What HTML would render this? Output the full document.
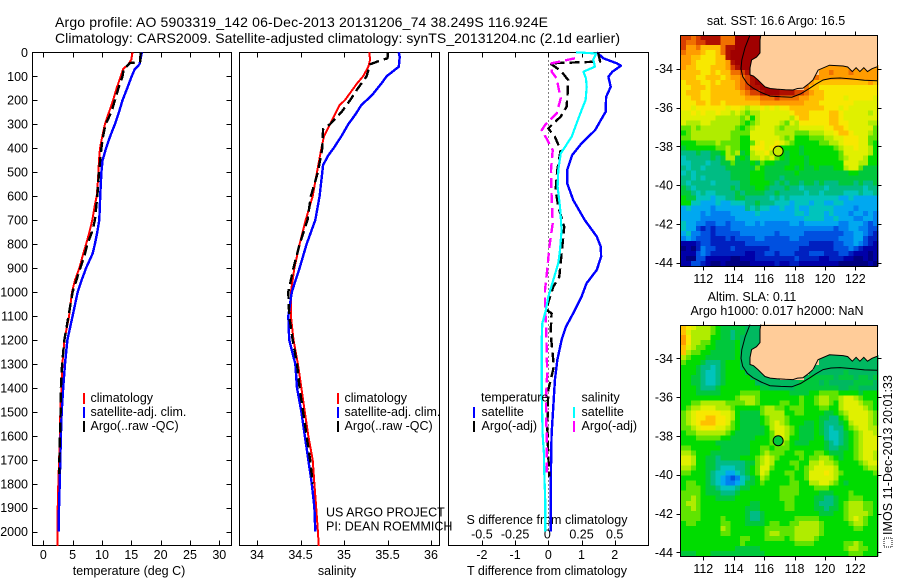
<!DOCTYPE html>
<html>
<head>
<meta charset="utf-8">
<title>Argo profile 5903319_142</title>
<style>
html,body{margin:0;padding:0;background:#fff;}
svg{display:block;}
text{font-family:"Liberation Sans",Arial,sans-serif;font-size:12.5px;fill:#000;}
</style>
</head>
<body>
<svg id="chart" xmlns="http://www.w3.org/2000/svg" width="900" height="580" viewBox="0 0 900 580">
<text x="55" y="27" textLength="493" style="font-size:14px">Argo profile: AO 5903319_142 06-Dec-2013 20131206_74 38.249S 116.924E</text>
<text x="55" y="43" textLength="565" style="font-size:14px">Climatology: CARS2009. Satellite-adjusted climatology: synTS_20131204.nc (2.1d earlier)</text>
<text x="129" y="575" text-anchor="middle">temperature (deg C)</text>
<text x="337" y="575" text-anchor="middle">salinity</text>
<text x="547" y="575" text-anchor="middle">T difference from climatology</text>
<text x="547" y="524" text-anchor="middle">S difference from climatology</text>
<text x="326" y="516.5">US ARGO PROJECT</text>
<text x="326" y="530.5">PI: DEAN ROEMMICH</text>
<text x="776" y="25" text-anchor="middle">sat. SST: 16.6 Argo: 16.5</text>
<text x="752" y="301" text-anchor="middle">Altim. SLA: 0.11</text>
<text x="777" y="315" text-anchor="middle">Argo h1000: 0.017 h2000: NaN</text>
<g transform="translate(892,535) rotate(-90)">
<text x="0" y="0" textLength="160">IMOS 11-Dec-2013 20:01:33</text>
</g>
<rect x="884" y="538" width="8" height="9" fill="none" stroke="#000" stroke-width="1" stroke-dasharray="1 1"/>
</svg>
<script>
// ---------- data: profile depths (dbar) and values ----------
const tempClimDepth = [0,30,50,70,100,150,200,250,300,350,400,450,500,550,600,650,700,750,800,850,900,950,1000,1100,1200,1300,1400,1500,1600,1700,1800,1900,2000,2060];
const tempClimValue = [15.2,15.0,14.5,13.6,13.2,12.5,11.9,11.2,10.5,10.05,9.66,9.5,9.4,9.27,9.1,8.7,8.35,7.85,7.3,6.7,6.15,5.4,4.9,4.4,3.6,3.25,3.1,2.9,2.85,2.7,2.55,2.45,2.45,2.45];
const tempSatDepth = [0,50,70,100,150,200,250,300,350,400,450,500,600,700,750,800,840,900,950,1000,1100,1200,1300,1400,1500,1600,1700,1800,1900,2000];
const tempSatValue = [16.8,16.4,15.6,15.07,14.3,13.5,12.9,12.2,11.4,10.7,10.1,9.9,9.7,9.55,9.2,8.8,8.4,7.3,6.55,5.86,5.0,4.1,3.7,3.4,3.13,3.0,2.9,2.8,2.67,2.6];
const tempArgoDepth = [0,40,45,70,100,150,200,250,300,350,400,500,600,650,700,750,800,850,900,1000,1100,1200,1300,1400,1500,1600,1700,1760];
const tempArgoValue = [16.6,16.5,14.8,13.7,13.5,12.8,12.2,11.6,10.6,10.2,9.9,9.5,9.2,9.0,8.8,8.3,7.5,7.0,6.3,5.0,4.3,3.6,3.2,3.0,2.95,2.85,2.75,2.7];

const salClimDepth = [0,30,60,100,130,200,220,300,350,400,500,600,700,800,900,1000,1100,1200,1300,1400,1500,1600,1700,1800,1900,2000,2060];
const salClimValue = [35.29,35.30,35.28,35.22,35.15,35.01,34.95,34.84,34.77,34.74,34.69,34.64,34.56,34.49,34.43,34.39,34.39,34.42,34.47,34.51,34.55,34.59,34.64,34.66,34.68,34.70,34.71];
const salSatDepth = [0,20,60,100,130,180,220,260,300,350,400,430,470,500,600,700,800,900,1000,1100,1200,1300,1400,1500,1600,1700,1800,1900,2000];
const salSatValue = [35.63,35.64,35.63,35.49,35.43,35.32,35.20,35.13,35.05,34.97,34.88,34.82,34.76,34.75,34.72,34.67,34.57,34.49,34.40,34.36,34.37,34.44,34.46,34.51,34.55,34.59,34.63,34.66,34.67];
const salArgoDepth = [0,25,35,50,100,150,200,250,300,320,400,500,600,700,800,900,1000,1100,1200,1300,1400,1500,1600,1700,1800];
const salArgoValue = [35.50,35.50,35.41,35.30,35.26,35.16,35.07,34.97,34.84,34.76,34.75,34.70,34.62,34.58,34.49,34.42,34.36,34.37,34.41,34.46,34.49,34.53,34.57,34.61,34.64];

const diffTSatDepth = [0,25,46,56,81,102,144,186,248,283,325,380,429,491,547,616,700,769,811,853,908,964,1020,1089,1145,1200,1284,1367,1478,1590,1729,2000];
const diffTSatValue = [1.46,1.66,2.06,2.19,1.93,1.81,1.88,1.74,1.73,1.58,1.41,1.0,0.72,0.57,0.57,0.75,1.1,1.46,1.58,1.59,1.46,1.15,1.0,0.75,0.53,0.40,0.27,0.20,0.15,0.10,0.08,0.07];
const diffSSatDepth = [0,5,30,60,81,109,144,199,241,296,352,422,491,561,644,741,825,880,950,1020,1075,1131,1200,1422,1590,1673,1756,1867,2000];
const diffSSatValue = [0.21,0.36,0.339,0.351,0.264,0.284,0.289,0.281,0.251,0.213,0.176,0.093,0.075,0.07,0.088,0.10,0.088,0.075,0.038,0,-0.018,-0.045,-0.05,-0.05,-0.043,-0.033,-0.03,-0.023,-0.023];
const diffTArgoDepth = [0,39,46,60,81,116,172,227,269,297,318,352,408,491,575,644,728,798,880,936,978,1073,1089,1172,1311,1408,1561,1686,1770];
const diffTArgoValue = [1.5,1.56,0.05,0.2,0.4,0.6,0.58,0.55,0.37,0.15,0,0.2,0.37,0.27,0.22,0.3,0.48,0.43,0.37,0.33,0.15,-0.07,0.1,0.07,0.17,0,-0.03,0,0.03];
const diffSArgoDepth = [25,46,81,109,144,192,255,304,325,360,408,491,603,714,811,908,992,1073,1117,1228,1339,1450,1590,1756];
const diffSArgoValue = [0.2,0.025,0.025,0.063,0.075,0.093,0.063,-0.025,-0.05,-0.013,0.033,0.02,0.025,0.033,0.008,-0.008,-0.025,-0.025,-0.018,-0.013,-0.008,-0.018,-0.013,-0.013];

// ---------- data: tick labels ----------
const depthTicks = [0,100,200,300,400,500,600,700,800,900,1000,1100,1200,1300,1400,1500,1600,1700,1800,1900,2000];
const tempTicks = [0,5,10,15,20,25,30];
const salTicks = [34,34.5,35,35.5,36];
const tDiffTicks = [-2,-1,0,1,2];
const sDiffTicks = [-0.5,-0.25,0,0.25,0.5];
const lonTicks = [112,114,116,118,120,122];
const latTicks = [-34,-36,-38,-40,-42,-44];

// ---------- data: coast and 200 m isobath (degrees) ----------
const coastLon = [115.78,115.73,115.73,115.5,115.18,115.07,115.07,115.3,115.6,116.06,116.4,116.83,117.4,117.9,118.2,118.56,118.9,119.22,119.55,120.3,121.2,121.5,121.8,122.05,122.3,122.56,122.8,123.1,123.43];
const coastLat = [-32.26,-32.52,-33.19,-33.4,-33.55,-33.96,-34.32,-34.38,-34.58,-34.94,-35.02,-35.05,-35.08,-35.1,-35.02,-35.0,-34.8,-34.58,-34.07,-33.82,-33.86,-33.91,-34.15,-33.95,-34.15,-33.95,-34.15,-34.0,-33.9];
const isobathLon = [115.07,114.75,114.53,114.48,114.59,114.9,115.27,115.8,116.39,117.1,117.82,118.4,119.02,119.4,119.88,120.4,121.0,121.8,122.6,123.43];
const isobathLat = [-32.26,-32.9,-33.55,-34.0,-34.41,-34.78,-35.0,-35.22,-35.41,-35.45,-35.47,-35.3,-35.0,-34.8,-34.58,-34.5,-34.48,-34.53,-34.6,-34.62];
const argoLon = 116.924;
const argoLat = -38.249;

// ---------- data: gridded fields, one character per cell on a colour-level scale (A cold/low ... T warm/high; "." or a short row = land) ----------
const sstRows = [
"RRQRSSSSQQQTTTTTT",
"RQQRRSSSQQQTTTTTT",
"RPPQOOOOQSSTTTTTT",
"QPPPONNOQSTTTTTT",
"PPOONNNOOSTTTTTTT",
"PPONNNNOOPSTTTTTT",
"POONNNOOOPRSTTTTTTT"+"........."+"PPPPPPPPPPPP",
"OOOONNONOOQQRSTTTTTS"+"........"+"PPQPPPQPPPPP",
"OOONNOOONOPPQRSTTTTT"+"......."+"QPPPPPPPPPPPP",
"NOOONNONOOOPQRSTTTTS"+"......"+"POOOOOOOOOOOPO",
"NNOOONOOOOOPQRSSTTTS"+"....."+"QOONNNNNNNNNNNN",
"NOOONNOOOOOOPQRRSTTT"+"SSSRRQP"+"OONNNNNNNNNNN",
"NNOONNOOOOOOOPPPQQQR"+"QQQQPPO"+"OONNNNMNNNNNM",
"NNNOONOONOOOOOOOPPPP"+"PPPPPOO"+"ONNNNNNNMMMMM",
"NNMNNNNNNMNNMLMMNMNM"+"NNOOOOO"+"OONNNMNMMMMMM",
"MMNMNMMNMMLMLKLLMMMM"+"MMNOOON"+"NNNOONMMMMMLM",
"MMMMMMMLLLLLKLJLMMMM"+"MMLNOON"+"NNNOONMMMMMMM",
"MLLLMMLLLLLLKJKLMMMM"+"LKMLNNN"+"NNNOONNMMMMLL",
"KKLKLLLLLLLKJKLMMMML"+"KLLLMMM"+"MMNNOONMMMMMK",
"JKLLLLLLLLKKKKMMMMML"+"LLLKKKL"+"LLMMNOONMMMLK",
"KKLLLLLLLLKKJJMMMMMM"+"LKLJJJK"+"KKLLMMNNNMMKK",
"JJJKKKKLKKKKJJKMNMMN"+"MLKJJJJ"+"JKKLLMNNNMMKJ",
"IJJJJJJKKLKKJJMNNMNO"+"JJJJIJJ"+"JJJJKLMMNMMLJ",
"HHHIHHIIJLKLIJLMMNLM"+"JIJJIJJ"+"JJJJJKMMMMMLJ",
"GHHHHHIHILLIJILLMLMK"+"JIJJJIJ"+"JJJJJKLMMMLJJ",
"GGHHHGHHIIKIIIJIKJJI"+"IIJJJIJ"+"JJJJJJMMMLLJJ",
"HGHHGHHHHIIIIIIKJIII"+"IJJIJII"+"JIIIJJLMMKIII",
"GHGHHHHHHHIIIIJJJIII"+"IIIJIII"+"IIIIIIIJJIIII",
"HHGHGHHHHHIIIIJJJIII"+"HIIIIII"+"IIIIIIIIIIIII",
"HGHHHHGHHHHHIIJJJJIH"+"IHIIHII"+"HIHHHIIIHIHHI",
"IHGHHHHHHHIHIIIJJIHH"+"HIHHGHH"+"HHGHHHHHHHGHH",
"IIHGHGGHHHHIHIIIIHHI"+"HHHHHGH"+"HGHHHHGGGHGGH",
"JIIGGGFGGHHIIHHHHHGH"+"GHGGGGG"+"GGGGGFFGFFFFF",
"JJGGFFFGFFGGGHHIHHHG"+"GGFGGGF"+"GGFFGGFFFFFFF",
"FGFFFFEFFFFFFHGHGGFF"+"GFFGFFG"+"GGGGFFFFEFFFF",
"FFFFEFEEEEFFFFFGFFFF"+"FFFGGFG"+"GGFGFFFEFFEFE",
"FFFFEEEEEEEFFFFFFFFF"+"FFFFFGG"+"GGFFGFFFEEFFE",
"GFFEEDDEEDEEEFFEFEEE"+"EEFFEFF"+"FFFFFEEFFFEDE",
"GFFDCDCDDDEEEEEEEEEE"+"EEEEEEE"+"EEEEDEEFFEEDD",
"FGEEDDCDDDDDEEEEEEED"+"EEEEEDD"+"DDDDDDEEFFEDC",
"EFEDDDCCCDCDDDDEEDDD"+"DDEEDDD"+"DDDDDEEEFFDCC",
"BBBCDDCCCCCCCDDDDDDD"+"DDDDDDC"+"CCCCDDEEFEDCB",
"ABACEDDCCCDCCCCCCCDD"+"DDDDCCC"+"CCCCDDDEDCBBB",
"BBBDEDCCCCCCCBBCCDDC"+"DDDCCCD"+"DDCCCDDCBBBAB",
"BAADDBBBBBAABBBCCCCC"+"CCCDCCC"+"CBBCCCBBAABAB",
"BBDDCBAABAAAAABBBBBC"+"BBCCBBB"+"BBBBBAAAAAABA"
];
const slaRows = [
"ONMLLLKJIIIIIUUU",
"OMLLLLKJIIHIIUUU",
"PNLLLLJJIIHIUUUU",
"PNLLKKJIIIIJUUUU",
"OMLKKJJIIIIJUUUU",
"OLKKJJIIIIIJUUUU",
"LKJJJIIIIIIJUUUUUU"+".........."+"UUUUUUUUUUUU",
"KJJJIHHHIJJJUUUUUUII"+"........"+"UUUUUUUUUUUU",
"JJJIHHGHIJJJUUUUUUII"+"......."+"UUUUUUUUUUUUU",
"JJJIHGGHIJJJJUUUUUUU"+"......"+"UUUUUUUIUUUUUU",
"JJIIHGGHIJJJJJUUUUUU"+"....."+"UIIIIIUIIIUIIUI",
"JJIIHGGHIJJJJJJUUUUU"+"UUUUIII"+"IUIUUUUUIIIIU",
"JJJIHHHIJJJJJJJJIIUU"+"UUUIIII"+"IIIIIUUIIUUUU",
"JJJIIIIIJJJJKKKKJJJJ"+"JJIIIIJ"+"JKKKKJJJJIJJJ",
"JJJJJJJJJJJKLLLKJJJJ"+"JJJJKJJ"+"KLLKKLMMLKJJJ",
"JJKKLLLLLKKKKLLKJJJJ"+"KKJJKJJ"+"KLLKJLMMMLKKJ",
"JKLLMMMLLLKJJJJJKLLK"+"KJKKKJJ"+"JKKJJLMMMMLKJ",
"KLMNNNNNMMLJIIIIKLLL"+"LJJKKJJ"+"JJIIJKLMMMMLK",
"KLMNNOONNMLJIIIIJKLL"+"LKJJJJJ"+"JIIHHJKMMMMLK",
"KLMNOOONNMKJIIIIJKLM"+"LKJJJII"+"JIHHHIJLMMMLK",
"KKLMNNNMMLKJIIIIIJLM"+"MLKJIII"+"JIHGHHJKLMMLL",
"JKKLLLLLLKJIIIIIIJKM"+"MLKJIII"+"JIHGGHIJKLMML",
"JJJKKKKKJJIIIIIJJJKL"+"MLJJIII"+"JJHGGHIJKLMMM",
"JJJJJJJIIIIIIIJJJJKL"+"LKJIIIJ"+"JJIHGHIJKLMMM",
"KKJJJJJJIIIIIIJJKKJK"+"KKJJJJJ"+"JJIHHIIJKLMMM",
"LLKJJJIIIIIIIIJJKLKK"+"KJJKKJJ"+"KKJIIIJJKLMML",
"MMLJJIIHIIIIJJJKLMLK"+"JJJJKJK"+"KLLKJIJJKLMML",
"MMLJJIIHHHHHHIIKLMLJ"+"JJKKJJL"+"LMLLKJJJJKLMM",
"LLKJJIIHGGGHHIJKMMKJ"+"JJJKJKL"+"MMMMLJJJJJKLL",
"KKJJJIHGGFFGHIJKMLJJ"+"JKKJJKM"+"MMNMLKJJJJJJK",
"JJJJJIHGFEDEGHIJLKJJ"+"JJKJJKM"+"MMMMLJJJJJJJJ",
"JKKJJIHGFEEFGIIJKJJJ"+"JJKKJJL"+"LMMLKJIJJJJJJ",
"JKKKJIIHGGGHIIJJJJJJ"+"KKKKJJJ"+"KKKJJJJJJJJJJ",
"KKKKJIIIHHHIJJJJJJJJ"+"KKKKJJJ"+"JIIIJJJKJJJJJ",
"KKLKJJJIIIIJJJJJJJJJ"+"KKKJJJJ"+"IIHHIJJKKKJJJ",
"KLLKJJJJJJJJJJIIJJJJ"+"JKKJJJJ"+"IHHHIJKLLLKKJ",
"KKLKJJJJJJJJJIIIJJJJ"+"JKKJJJJ"+"IIHIIJKLLLKKJ",
"KKKKJJJJJJJJJIHHIJJJ"+"JJJJJJJ"+"JIIIJJKLLLLKJ",
"KKKKJJJJKJJJJIHHIJJJ"+"JJJKKKK"+"KJJJJJKLMLKJJ",
"JKKJJJJJKKJJJIIIIJKK"+"JJKKLLL"+"LKJJJJJKLLKJJ",
"JJJJJJJJLKJJJJJJJKKK"+"KKKLLLL"+"LKJJJJJJKKJJJ",
"JJJJJJJJKKJJJJJJJKLL"+"KKKLLLL"+"LKJJJJJJJJJJJ",
"JJJJJJJJJJJJKKJJJKKK"+"KJKLLLL"+"KJJJJJJJJJJJJ",
"JJJJJJJJJJJJKJJJJJJJ"+"JJJKKKK"+"JJJJJJKKLKJJJ",
"JJJJJJJJJJJIIIIIJJJJ"+"JJJJJJJ"+"JJJJJJKLLKKJJ",
"IIIJJJIIIIIIIIIIIJJJ"+"JJJJJJJ"+"JJJJJJJKKKJJJ"
];

// ---------- scales and axis functions ----------
const levelColor = {A:"#000080",B:"#0000a8",C:"#0020c0",D:"#0050e0",E:"#0080f0",F:"#00a8f0",G:"#00c4bc",H:"#00bc84",U:"#00b860",I:"#00c83c",J:"#00dc00",K:"#60e400",L:"#b0ec00",M:"#e0f000",N:"#f8e800",O:"#ffc000",P:"#ff9c00",Q:"#f07000",R:"#d84000",S:"#b01000",T:"#a00000"};
const depthY = d => 52.3 + d * 0.2397;
const tempX = t => 43.3 + t * 5.867;
const salX = s => 257 + (s - 34) * 87;
const tDiffX = t => 548.3 + t * 33.2;
const sDiffX = s => 548.3 + s * 132.8;
const lonX = lon => 703.3 + (lon - 112) * 15.2;
const latY = (lat, originY) => originY + (-34 - lat) * 19.4;

const svg = document.getElementById('chart');
const NS = 'http://www.w3.org/2000/svg';
function make(tag, attrs, parent) {
  const el = document.createElementNS(NS, tag);
  for (const k in attrs) el.setAttribute(k, attrs[k]);
  (parent || svg).appendChild(el);
  return el;
}
function label(txt, x, y, anchor, parent) {
  const el = make('text', {x: x, y: y, 'text-anchor': anchor}, parent);
  el.textContent = txt;
  return el;
}
function tick(x1, y1, x2, y2, parent) {
  return make('line', {x1: x1, y1: y1, x2: x2, y2: y2, stroke: '#000', 'stroke-width': 1, 'shape-rendering': 'crispEdges'}, parent);
}
function frame(x, y, w, h) {
  return make('rect', {x: x, y: y, width: w, height: h, fill: 'none', stroke: '#000', 'stroke-width': 1, 'shape-rendering': 'crispEdges'});
}
function profile(depths, values, xFn, color, width, dash) {
  const pts = depths.map((d, i) => xFn(values[i]).toFixed(1) + ',' + depthY(d).toFixed(1)).join(' ');
  const attrs = {points: pts, fill: 'none', stroke: color, 'stroke-width': width, 'stroke-linejoin': 'round', 'shape-rendering': 'crispEdges'};
  if (dash) attrs['stroke-dasharray'] = dash;
  return make('polyline', attrs);
}

// ---------- profile panels ----------
const TOP = 52.5, BOTTOM = 545.5;
const panels = [
  {name: 'temperature', l: 32.5, r: 231.5, ticks: tempTicks, fn: tempX},
  {name: 'salinity', l: 239.5, r: 439.5, ticks: salTicks, fn: salX},
  {name: 't-difference', l: 448.5, r: 648.5, ticks: tDiffTicks, fn: tDiffX}
];
panels.forEach(p => {
  const box = frame(p.l, TOP, p.r - p.l, BOTTOM - TOP);
  
  
  const g = make('g', {});
  
  
  p.ticks.forEach(v => {
    const x = Math.round(p.fn(v)) + 0.5;
    const topTick = tick(x, TOP, x, TOP + 5, g);
    
    
    const botTick = tick(x, BOTTOM, x, BOTTOM - 5, g);
    
    
    const t = label(String(v), p.fn(v), 559, 'middle', g);
    
    
  });
});
const depthAxis = make('g', {});


depthTicks.forEach(d => {
  const y = Math.round(depthY(d)) + 0.5;
  const a = tick(32.5, y, 37.5, y, depthAxis);
  
  
  const b = tick(226.5, y, 231.5, y, depthAxis);
  
  
  const t = label(String(d), 28, depthY(d) + 4.5, 'end', depthAxis);
  
  
});
const sAxis = make('g', {});


sDiffTicks.forEach(v => {
  const t = label(String(v), sDiffX(v) - (v === 0 ? 1 : 0), 538.5, 'middle', sAxis);
  
  
});

const zeroLine = make('line', {x1: tDiffX(0), y1: TOP, x2: tDiffX(0), y2: depthY(2000), stroke: '#000', 'stroke-width': 1, 'stroke-dasharray': '1 3', 'shape-rendering': 'crispEdges'});



const DASH = '10 5';
let line;
line = profile(tempClimDepth, tempClimValue, tempX, '#ff0000', 2);


line = profile(tempSatDepth, tempSatValue, tempX, '#0000ff', 2.4);


line = profile(tempArgoDepth, tempArgoValue, tempX, '#000000', 2.4, DASH);



line = profile(salClimDepth, salClimValue, salX, '#ff0000', 2);


line = profile(salSatDepth, salSatValue, salX, '#0000ff', 2.4);


line = profile(salArgoDepth, salArgoValue, salX, '#000000', 2.4, DASH);



line = profile(diffTSatDepth, diffTSatValue, tDiffX, '#0000ff', 2.4);


line = profile(diffTArgoDepth, diffTArgoValue, tDiffX, '#000000', 2.4, DASH);


line = profile(diffSArgoDepth, diffSArgoValue, sDiffX, '#ff00ff', 2.4, DASH);


line = profile(diffSSatDepth, diffSSatValue, sDiffX, '#00ffff', 2.2);



// ---------- legends ----------
const legendEntries = [
  {txt: 'climatology', color: '#ff0000', segX: 84, txtX: 90.5, row: 0, key: 'temperature-legend-climatology'},
  {txt: 'satellite-adj. clim.', color: '#0000ff', segX: 84, txtX: 90.5, row: 1, key: 'temperature-legend-satellite'},
  {txt: 'Argo(..raw -QC)', color: '#000000', segX: 84, txtX: 90.5, row: 2, key: 'temperature-legend-argo'},
  {txt: 'climatology', color: '#ff0000', segX: 338, txtX: 344.5, row: 0, key: 'salinity-legend-climatology'},
  {txt: 'satellite-adj. clim.', color: '#0000ff', segX: 338, txtX: 344.5, row: 1, key: 'salinity-legend-satellite'},
  {txt: 'Argo(..raw -QC)', color: '#000000', segX: 338, txtX: 344.5, row: 2, key: 'salinity-legend-argo'},
  {txt: 'satellite', color: '#0000ff', segX: 474, txtX: 481.5, row: 1, key: 'difference-legend-t-satellite'},
  {txt: 'Argo(-adj)', color: '#000000', segX: 474, txtX: 481.5, row: 2, key: 'difference-legend-t-argo'},
  {txt: 'satellite', color: '#00ffff', segX: 574, txtX: 581.5, row: 1, key: 'difference-legend-s-satellite'},
  {txt: 'Argo(-adj)', color: '#ff00ff', segX: 574, txtX: 581.5, row: 2, key: 'difference-legend-s-argo'}
];
legendEntries.forEach(e => {
  const g = make('g', {});
  
  
  const yTop = 393 + e.row * 14;
  const seg = make('line', {x1: e.segX, y1: yTop, x2: e.segX, y2: yTop + 11, stroke: e.color, 'stroke-width': 2, 'shape-rendering': 'crispEdges'}, g);
  
  
  const t = label(e.txt, e.txtX, 402 + e.row * 14, 'start', g);
  
  
});
const legendHeadT = label('temperature', 481, 401.5, 'start');


const legendHeadS = label('salinity', 581.5, 401.5, 'start');



// ---------- maps ----------
function drawMap(rows, name, frameTop, originY, dotColor) {
  const L = 680, W = 197, H = 231, COLS = 40, ROWS = rows.length;
  const cw = W / COLS, ch = H / ROWS;
  const bg = make('rect', {x: L, y: frameTop, width: W, height: H, fill: '#ffcc99', 'shape-rendering': 'crispEdges'});
  
  
  const cells = make('g', {'shape-rendering': 'crispEdges'});
  
  
  rows.forEach((row, r) => {
    for (let c = 0; c < row.length; c++) {
      const color = levelColor[row[c]];
      if (!color) continue;
      const cell = make('rect', {x: (L + 1 + c * cw).toFixed(2), y: (frameTop + r * ch).toFixed(2), width: (cw + 0.4).toFixed(2), height: (ch + 0.4).toFixed(2), fill: color}, cells);
      
      
    }
  });
  const landPts = coastLon.map((lon, i) => lonX(lon).toFixed(1) + ',' + latY(coastLat[i], originY).toFixed(1));
  landPts.push('877,' + frameTop);
  const land = make('polygon', {points: landPts.join(' '), fill: '#ffcc99', stroke: 'none'});
  
  
  const coastPts = coastLon.map((lon, i) => lonX(lon).toFixed(1) + ',' + latY(coastLat[i], originY).toFixed(1)).join(' ');
  const coast = make('polyline', {points: coastPts, fill: 'none', stroke: '#000', 'stroke-width': 1});
  
  
  const isoPts = isobathLon.map((lon, i) => lonX(lon).toFixed(1) + ',' + latY(isobathLat[i], originY).toFixed(1)).join(' ');
  const iso = make('polyline', {points: isoPts, fill: 'none', stroke: '#000', 'stroke-width': 1});
  
  
  const box = frame(680.5, frameTop + 0.5, W, H);
  
  
  const bottom = frameTop + H + 0.5;
  lonTicks.forEach(v => {
    const x = Math.round(lonX(v)) + 0.5;
    const a = tick(x, frameTop + 0.5, x, frameTop - 3.5);
    
    
    const b = tick(x, bottom, x, bottom + 4);
    
    
    const t = label(String(v), lonX(v), bottom + 16.5, 'middle');
    
    
  });
  latTicks.forEach(v => {
    const y = Math.round(latY(v, originY)) + 0.5;
    const a = tick(680.5, y, 676.5, y);
    
    
    const b = tick(877.5, y, 881.5, y);
    
    
    const t = label(String(v), 673, latY(v, originY) + 4.5, 'end');
    
    
  });
  const dot = make('circle', {cx: lonX(argoLon), cy: latY(argoLat, originY), r: 5, fill: dotColor, stroke: '#000', 'stroke-width': 1});
  
  
}
drawMap(sstRows, 'sst-map', 35, 68.7, '#c8ea00');
drawMap(slaRows, 'sla-map', 325, 358.3, '#00c83c');
</script>
</body>
</html>
